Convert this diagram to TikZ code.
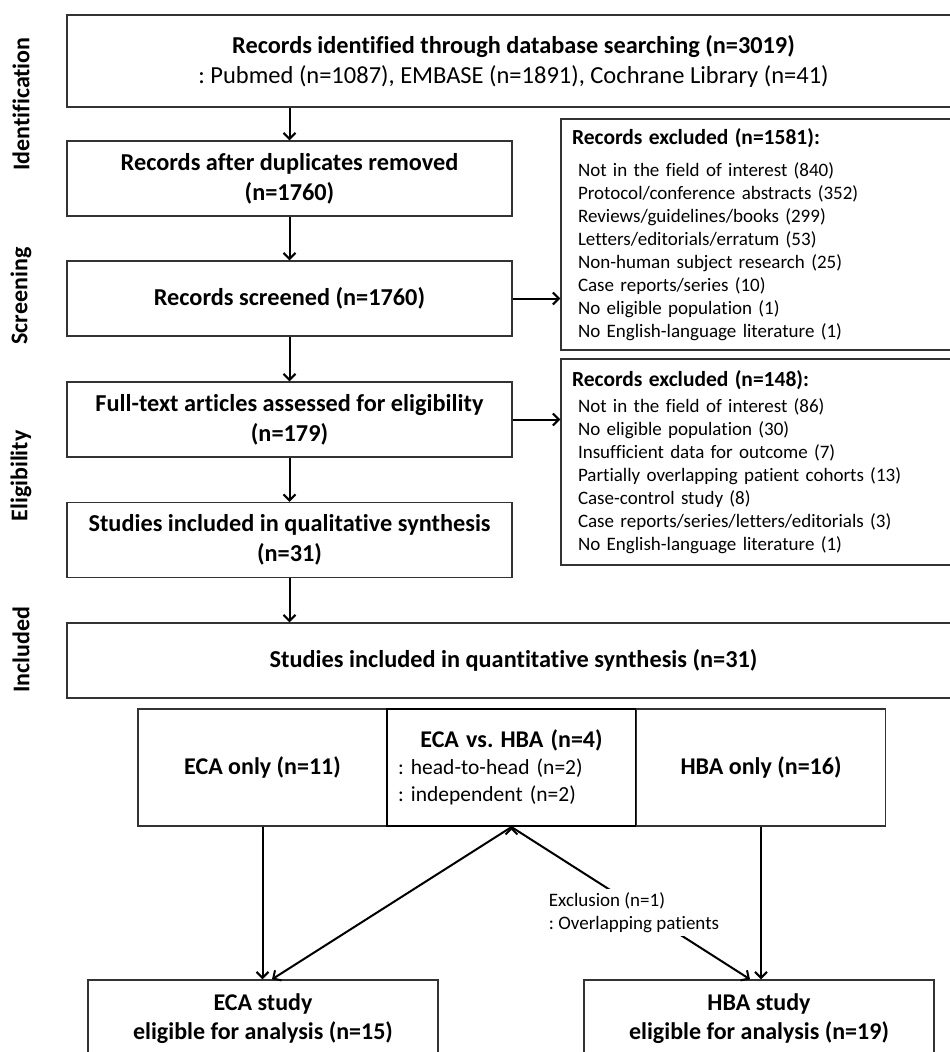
\documentclass[tikz,border=0pt]{standalone}
\usepackage{fontspec}
\setmainfont{Carlito}[Ligatures=NoCommon]
\usetikzlibrary{arrows.meta}
\frenchspacing

\begin{document}
\begin{tikzpicture}[x=1pt,y=-1pt,>={Straight Barb[length=6pt,width=12pt]},draw=black!80]
	\def \mainx{289.5}
	\def \widex{513.5}
	\def \exclx{760.5}
	\def \army{767.5}
	\def \studyy{1018.5}
	\tikzstyle{box}=[draw,line width=1.4pt,minimum width=445pt,minimum height=75pt,align=center,inner sep=4pt,font=\fontsize{24.3}{30}\selectfont\bfseries]
	\tikzstyle{wide-box}=[box,minimum width=893pt]
	\tikzstyle{excl-box}=[draw,line width=1.4pt,text width=377pt,inner xsep=11pt,align=left,font=\fontsize{19}{23}\selectfont]
	\tikzstyle{arm-box}=[draw,line width=1.4pt,minimum width=249pt,minimum height=117pt,align=center,font=\fontsize{24}{27}\selectfont\bfseries]
	\tikzstyle{study-box}=[box,minimum width=350pt,minimum height=77pt,font=\fontsize{24}{29}\selectfont\bfseries]
	\tikzstyle{phase}=[rotate=90,font=\fontsize{24}{28}\selectfont\bfseries]
	\tikzstyle{note}=[fill=white,align=left,inner sep=3pt,font=\fontsize{19}{23}\selectfont]
	\tikzstyle{arr}=[->,line width=2pt,draw=black]
	\useasboundingbox (0,0) rectangle (950,1052);
	\clip (0,0) rectangle (950,1052);

	% phases
	\node[phase] (pident)	at (21,104)	{Identification};
	\node[phase] (pscreen)	at (21,296)	{Screening};
	\node[phase] (pelig)	at (21,476)	{Eligibility};
	\node[phase] (pincl)	at (21,650)	{Included};

	% main column
	\node[wide-box,minimum height=92pt] (ident) at (\widex,61)
		{Records identified through database searching (n=3019)\\
		 \mdseries\fontsize{24.5}{30}\selectfont : Pubmed (n=1087), EMBASE (n=1891), Cochrane Library (n=41)};
	\node[box] (dup)	at (\mainx,178.5)	{Records after duplicates removed\\(n=1760)};
	\node[box] (screen)	at (\mainx,298.5)	{Records screened (n=1760)};
	\node[box] (full)	at (\mainx,419.5)	{Full-text articles assessed for eligibility\\(n=179)};
	\node[box] (qual)	at (\mainx,540)		{Studies included in qualitative synthesis\\(n=31)};
	\node[wide-box] (quant)	at (\widex,660.5)	{Studies included in quantitative synthesis (n=31)};

	% excluded records
	\node[excl-box,minimum height=231pt] (excl1) at (\exclx,234.5)
		{{\bfseries\fontsize{21.5}{23}\selectfont Records excluded (n=1581):}\\[9pt]
		 \hspace*{6pt}Not in the field of interest (840)\\
		 \hspace*{6pt}Protocol/conference abstracts (352)\\
		 \hspace*{6pt}Reviews/guidelines/books (299)\\
		 \hspace*{6pt}Letters/editorials/erratum (53)\\
		 \hspace*{6pt}Non-human subject research (25)\\
		 \hspace*{6pt}Case reports/series (10)\\
		 \hspace*{6pt}No eligible population (1)\\
		 \hspace*{6pt}No English-language literature (1)};
	\node[excl-box,minimum height=206pt] (excl2) at (\exclx,462)
		{{\bfseries\fontsize{21.5}{23}\selectfont Records excluded (n=148):}\\[3pt]
		 \hspace*{6pt}Not in the field of interest (86)\\
		 \hspace*{6pt}No eligible population (30)\\
		 \hspace*{6pt}Insufficient data for outcome (7)\\
		 \hspace*{6pt}Partially overlapping patient cohorts (13)\\
		 \hspace*{6pt}Case-control study (8)\\
		 \hspace*{6pt}Case reports/series/letters/editorials (3)\\
		 \hspace*{6pt}No English-language literature (1)};

	% study arms
	\node[arm-box] (ecaonly)	at (262.5,\army)	{ECA only (n=11)};
	\node[arm-box,draw=black,line width=2pt,text width=227pt,inner xsep=11pt,align=left,font=\fontsize{21.5}{27}\selectfont] (ecavshba) at (511.5,\army)
		{{\centering\fontsize{24}{27}\selectfont\bfseries ECA vs. HBA (n=4)\par}
		 : head-to-head (n=2)\\
		 : independent (n=2)};
	\node[arm-box] (hbaonly)	at (761,\army)		{HBA only (n=16)};

	% analysis sets
	\node[study-box] (ecastudy)	at (263,\studyy)	{ECA study\\eligible for analysis (n=15)};
	\node[study-box] (hbastudy)	at (759,\studyy)	{HBA study\\eligible for analysis (n=19)};

	\path[arr]
		(ident.south -| dup.north)	edge	(dup)
		(dup)	edge	(screen)
		(screen)	edge	(full)
		(full)	edge	(qual)
		(qual)	edge	(qual.south |- quant.north)
		%
		(screen.east)	edge	(screen.east -| excl1.west)
		(full.east)	edge	(full.east -| excl2.west)
		%
		(ecaonly)	edge	(ecaonly.south |- ecastudy.north)
		(hbaonly)	edge	(hbaonly.south |- hbastudy.north)
		(ecavshba.south)	edge	([xshift=9pt]ecastudy.north)
		(ecavshba.south)	edge	([xshift=-9pt]hbastudy.north);

	\node[note] (exclnote) at (634,912.5) {Exclusion (n=1)\\: Overlapping patients};
\end{tikzpicture}
\end{document}
